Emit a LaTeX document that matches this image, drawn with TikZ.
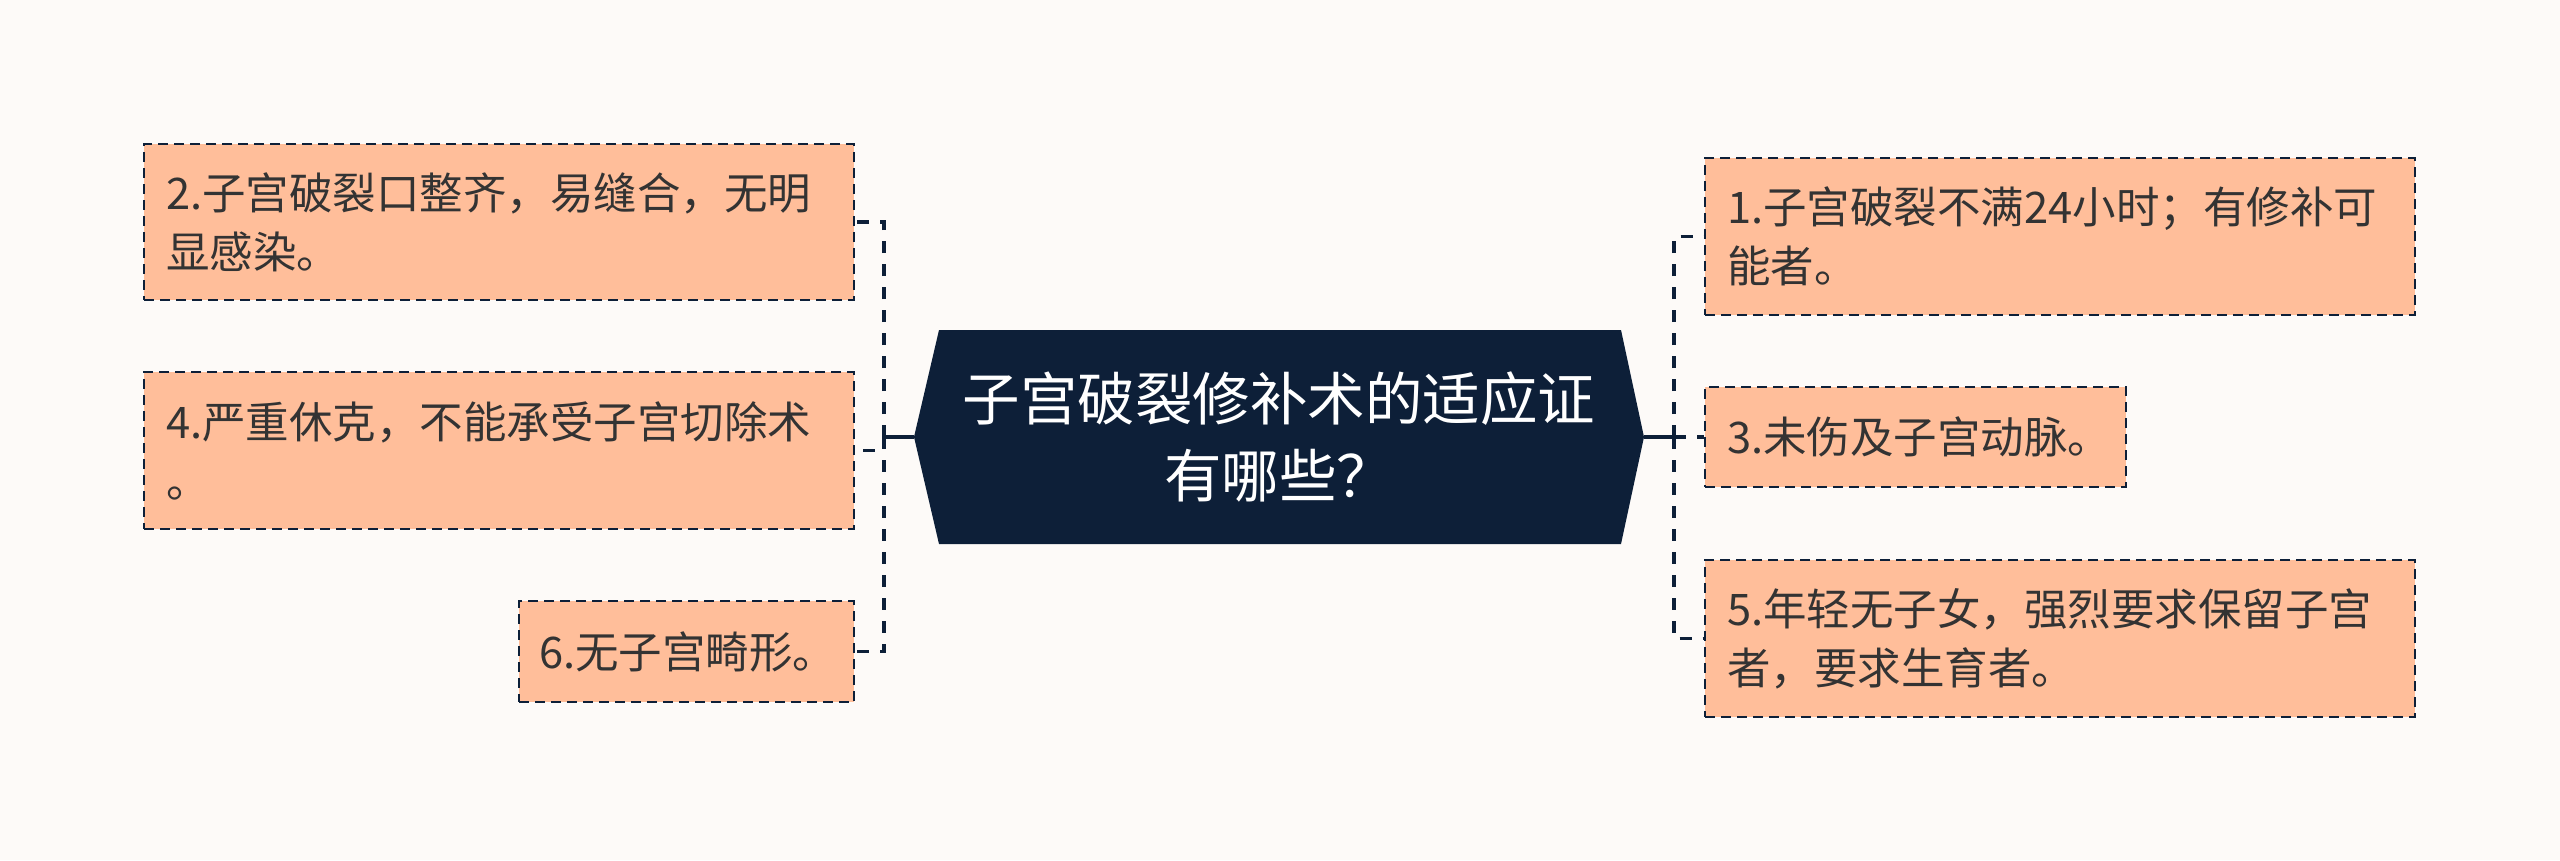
\documentclass[tikz,border=0pt]{standalone}
\usepackage{fontspec}
\setmainfont{Noto Sans CJK SC}
\definecolor{bgc}{RGB}{253,250,248}
\definecolor{navy}{RGB}{13,31,56}
\definecolor{peach}{RGB}{255,190,154}
\definecolor{txt}{RGB}{51,51,51}
\begin{document}
\begin{tikzpicture}[x=1pt,y=-1pt,
  leaf/.style={draw=navy, line width=2.6pt, dash pattern=on 10pt off 6pt, fill=peach,
    text=txt, font=\fontsize{43.5}{59}\selectfont, align=left,
    inner xsep=22pt, inner ysep=0pt},
  branch/.style={draw=navy, line width=3.6pt, dash pattern=on 12pt off 11pt},
  trunk/.style={draw=navy, line width=3.6pt}]
\fill[bgc] (0,0) rectangle (2560,860);
\useasboundingbox (0,0) rectangle (2560,860);

% central hexagon
\coordinate (cl) at (914,437);
\coordinate (cr) at (1644,437);
\fill[navy] (cl) -- (939,330) -- (1621,330) -- (cr) -- (1621,544) -- (939,544) -- cycle;
\node[text=white, font=\fontsize{57.5}{77}\selectfont, align=center] (center) at (1279,437)
  {子宫破裂修补术的适应证\\有哪些？};

% left nodes
\node[leaf, text width=666pt, minimum height=156pt] (n2) at (499,222)
  {2.子宫破裂口整齐，易缝合，无明\\显感染。};
\node[leaf, text width=666pt, minimum height=157pt] (n4) at (499,450.5)
  {4.严重休克，不能承受子宫切除术\\。};
\node[leaf, text width=295pt, inner xsep=20pt, minimum height=101pt] (n6) at (686.5,651.5)
  {6.无子宫畸形。};

% right nodes
\node[leaf, text width=666pt, minimum height=157pt] (n1) at (2060,236.5)
  {1.子宫破裂不满24小时；有修补可\\能者。};
\node[leaf, text width=377pt, minimum height=100pt] (n3) at (1915.5,437)
  {3.未伤及子宫动脉。};
\node[leaf, text width=666pt, minimum height=157pt] (n5) at (2060,638.5)
  {5.年轻无子女，强烈要求保留子宫\\者，要求生育者。};

% connectors
\coordinate (lj) at (884,437);
\coordinate (rj) at (1674,437);
\draw[trunk] (cl) -- (lj);
\draw[branch] (lj) |- (n2.east);
\draw[branch] (lj) |- (n4.east);
\draw[branch] (lj) |- (n6.east);
\draw[trunk] (cr) -- (rj);
\draw[branch] (rj) |- (n1.west);
\draw[branch] (rj) -- (n3.west);
\draw[branch] (rj) |- (n5.west);
\end{tikzpicture}
\end{document}
